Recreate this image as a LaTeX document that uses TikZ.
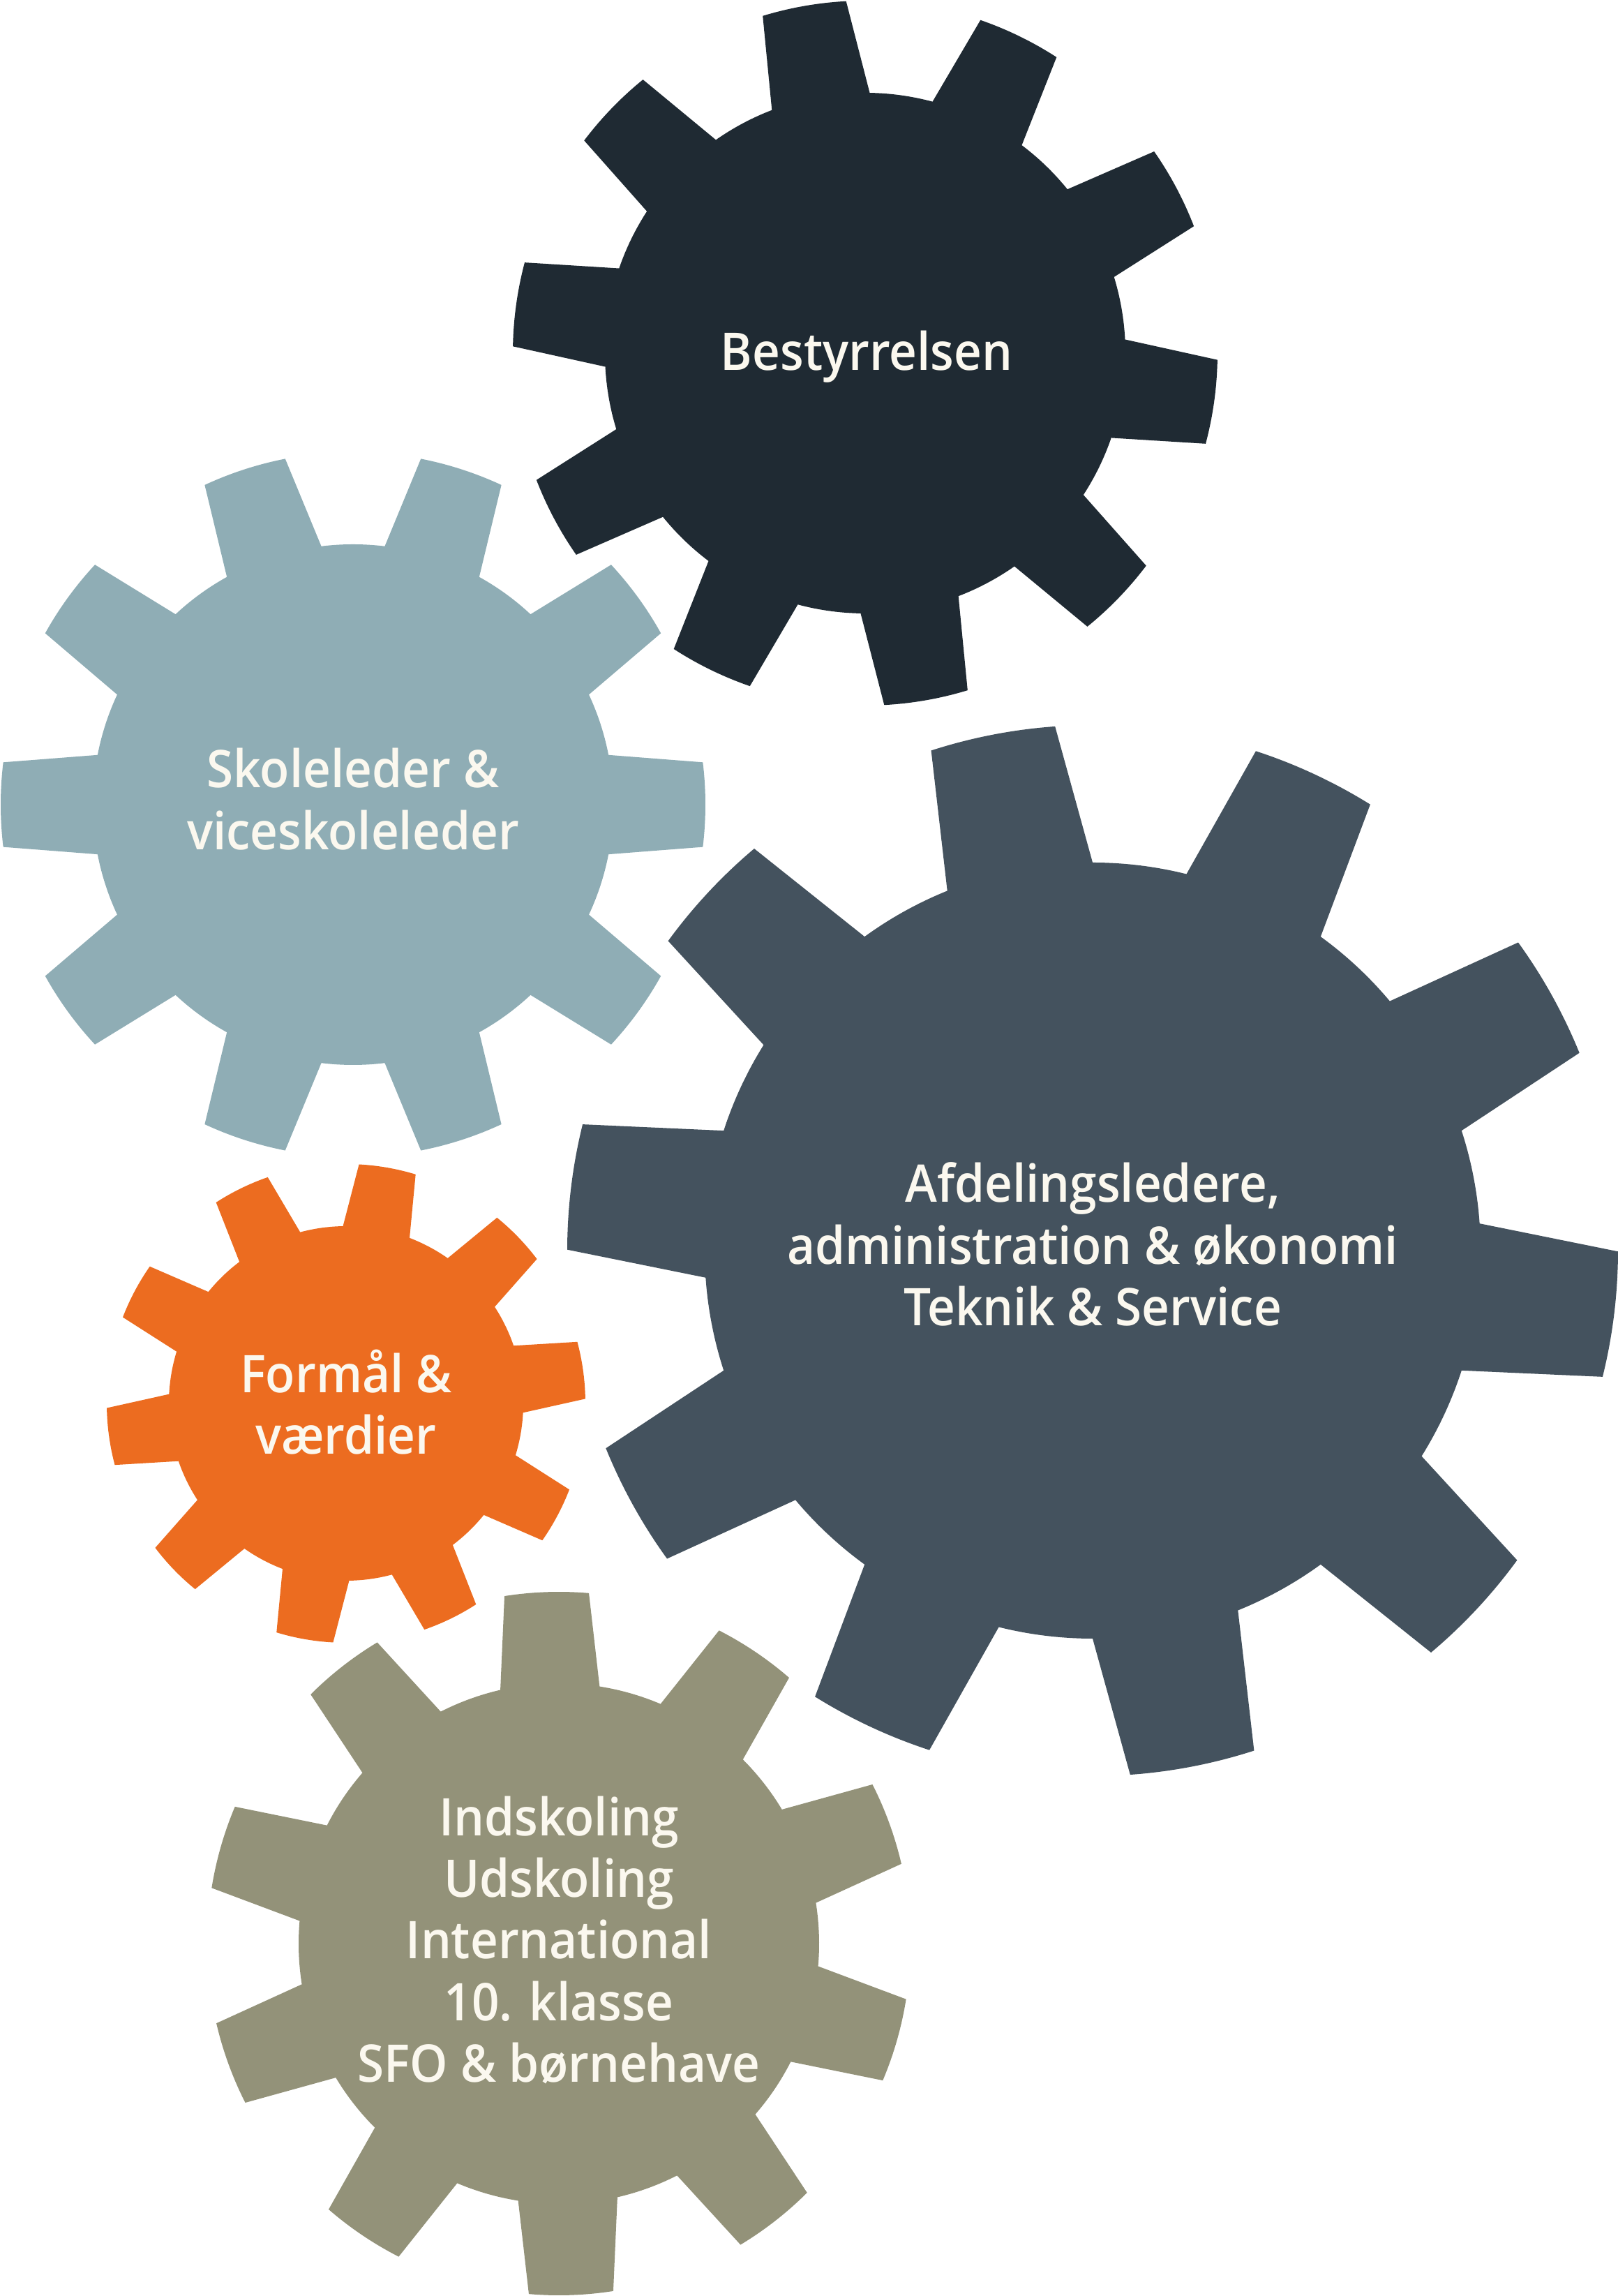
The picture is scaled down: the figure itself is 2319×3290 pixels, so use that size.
\documentclass[tikz,border=0pt]{standalone}
\usepackage{fontspec}
\setmainfont{Open Sans Semibold}[FakeStretch=0.93]
\definecolor{gnavy}{HTML}{1F2A33}
\definecolor{glight}{HTML}{8FADB5}
\definecolor{gslate}{HTML}{44525E}
\definecolor{gorange}{HTML}{EC6C20}
\definecolor{gkhaki}{HTML}{939279}
\definecolor{txtc}{HTML}{FBF8EF}
\newcommand\drawgear[6]{%
  \fill[#6, shift={(#1,#2)}] ({#5-11}:#4)
    \foreach \k in {0,...,9}{
      -- ({#5+36*\k-6.9}:#3) arc[start angle={#5+36*\k-6.9}, delta angle=13.8, radius=#3]
      -- ({#5+36*\k+11}:#4) arc[start angle={#5+36*\k+11}, delta angle=14, radius=#4]
    } -- cycle;}
\begin{document}
\begin{tikzpicture}[x=0.25pt,y=0.25pt,
  lbl/.style={text=txtc, align=center, inner sep=0pt, font=\fontsize{18.6pt}{22.1pt}\selectfont}]
\useasboundingbox (0,0) rectangle (2319,3290);
\drawgear{1240}{2784}{505}{373}{-8}{gnavy}
\drawgear{506}{2137}{505}{373}{0}{glight}
\drawgear{1566}{1498}{753}{556}{-7}{gslate}
\drawgear{496}{1279}{343}{254}{8}{gorange}
\drawgear{801}{505}{504}{373}{-16}{gkhaki}
\node[lbl] (t1) at (1242,2779) {Bestyrrelsen};
\node[lbl] (t2) at (506,2145) {Skoleleder \&\\viceskoleleder};
\node[lbl] (t3) at (1566,1507) {Afdelingsledere,\\administration \& økonomi\\Teknik \& Service};
\node[lbl] (t4) at (496,1281) {Formål \&\\værdier};
\node[lbl] (t5) at (801,510) {Indskoling\\Udskoling\\International\\10. klasse\\SFO \& børnehave};
\end{tikzpicture}
\end{document}
